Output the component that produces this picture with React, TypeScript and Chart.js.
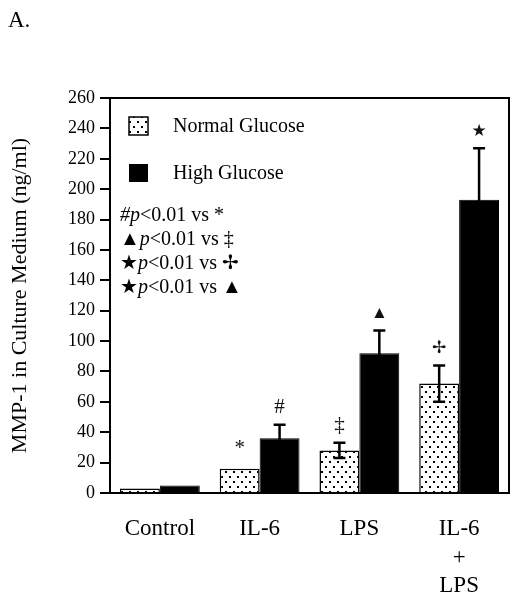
import React, { useEffect, useRef } from "react";
import { Chart, registerables } from "chart.js";
Chart.register(...registerables);

const categories: (string | string[])[] = ["Control", "IL-6", "LPS", ["IL-6", "+", "LPS"]];
const seriesNames = ["Normal Glucose", "High Glucose"];
const normalGlucose = [3, 16, 28, 72];
const highGlucose = [5, 36, 92, 193];
const normalGlucoseSE = [0, 0, 5, 12];
const highGlucoseSE = [0, 9, 15, 34];
const normalGlucoseMarks = ["", "*", "‡", "✢"];
const highGlucoseMarks = ["", "#", "▲", "★"];
const significanceNotes = [
  ["#", "<0.01 vs ", "*"],
  ["▲", "<0.01 vs ", "‡"],
  ["★", "<0.01 vs ", "✢"],
  ["★", "<0.01 vs ", "▲"],
];
const yMin = 0;
const yMax = 260;
const yStep = 20;
const panelLabel = "A.";
const yTitle = "MMP-1 in Culture Medium (ng/ml)";

const SERIF = "'Liberation Serif', 'Times New Roman', 'DejaVu Sans', serif";

function makeDotPattern(): CanvasPattern | string {
  const c = document.createElement("canvas");
  c.width = 8;
  c.height = 10;
  const g = c.getContext("2d");
  if (!g) return "#fff";
  g.fillStyle = "#fff";
  g.fillRect(0, 0, 8, 10);
  g.fillStyle = "#000";
  g.fillRect(1, 1, 2, 2);
  g.fillRect(5, 6, 2, 2);
  return g.createPattern(c, "repeat") || "#fff";
}

export default function App() {
  const ref = useRef<HTMLCanvasElement | null>(null);
  useEffect(() => {
    if (!ref.current) return;
    const dots = makeDotPattern();
    const values = [normalGlucose, highGlucose];
    const errors = [normalGlucoseSE, highGlucoseSE];
    const marks = [normalGlucoseMarks, highGlucoseMarks];

    const annotate = {
      id: "annotate",
      afterDatasetsDraw(chart: any) {
        const ctx = chart.ctx as CanvasRenderingContext2D;
        const { left, top, right, bottom } = chart.chartArea;
        const y = chart.scales.y;
        ctx.save();
        ctx.strokeStyle = "#000";
        ctx.lineWidth = 2;
        ctx.strokeRect(left, top, right - left, bottom - top);
        ctx.lineWidth = 2.5;
        for (let di = 0; di < 2; di++) {
          const meta = chart.getDatasetMeta(di);
          meta.data.forEach((bar: any, i: number) => {
            const v = values[di][i];
            const e = errors[di][i];
            const x = bar.x;
            let topY = y.getPixelForValue(v);
            if (e > 0) {
              const yt = y.getPixelForValue(v + e);
              const yb = y.getPixelForValue(v - e);
              ctx.strokeStyle = "#000";
              ctx.beginPath();
              ctx.moveTo(x, yb);
              ctx.lineTo(x, yt);
              ctx.moveTo(x - 6, yt);
              ctx.lineTo(x + 6, yt);
              ctx.moveTo(x - 6, yb);
              ctx.lineTo(x + 6, yb);
              ctx.stroke();
              topY = yt;
            }
            const m = marks[di][i];
            if (m) {
              ctx.fillStyle = "#111";
              const small = m === "▲" || m === "★" || m === "✢";
              ctx.font = `${small ? 17 : 21}px ${SERIF}`;
              ctx.textAlign = "center";
              ctx.textBaseline = "middle";
              ctx.fillText(m, x, topY - (e > 0 ? 17 : 20));
            }
          });
        }
        ctx.restore();
      },
      afterDraw(chart: any) {
        const ctx = chart.ctx as CanvasRenderingContext2D;
        ctx.save();
        ctx.fillStyle = "#000";
        ctx.textBaseline = "alphabetic";
        ctx.textAlign = "left";
        ctx.font = `23px ${SERIF}`;
        ctx.fillText(panelLabel, 8, 27);

        // legend
        ctx.fillStyle = dots as any;
        ctx.fillRect(129, 117, 19, 18);
        ctx.strokeStyle = "#000";
        ctx.lineWidth = 1.5;
        ctx.strokeRect(129, 117, 19, 18);
        ctx.fillStyle = "#000";
        ctx.fillRect(129, 164, 19, 18);
        ctx.font = `20px ${SERIF}`;
        ctx.textBaseline = "middle";
        ctx.fillText(seriesNames[0], 173, 127);
        ctx.fillText(seriesNames[1], 173, 174);

        // significance notes
        significanceNotes.forEach((note, k) => {
          const yy = 216 + k * 24;
          let xx = 120;
          const segs: [string, boolean][] = [
            [note[0], k === 0],
            ["p", true],
            [note[1], false],
            [note[2], false],
          ];
          segs.forEach(([t, it]) => {
            ctx.font = `${it ? "italic " : ""}20px ${SERIF}`;
            ctx.fillText(t, xx, yy);
            xx += ctx.measureText(t).width;
          });
        });
        ctx.restore();
      },
    };

    const chart = new Chart(ref.current, {
      type: "bar",
      data: {
        labels: categories as any,
        datasets: [
          {
            label: seriesNames[0],
            data: normalGlucose,
            backgroundColor: dots as any,
            borderColor: "#000",
            borderWidth: 1.5,
            categoryPercentage: 0.8,
            barPercentage: 1.0,
          },
          {
            label: seriesNames[1],
            data: highGlucose,
            backgroundColor: "#000",
            borderColor: "#000",
            borderWidth: 1,
            categoryPercentage: 0.8,
            barPercentage: 1.0,
          },
        ],
      },
      options: {
        animation: false,
        responsive: false,
        devicePixelRatio: 1,
        layout: { padding: { top: 98, right: 11, left: 0, bottom: 0 } },
        plugins: {
          legend: { display: false },
          tooltip: { enabled: false },
        },
        scales: {
          x: {
            offset: true,
            grid: { display: false },
            border: { display: true, color: "#000", width: 2 },
            ticks: {
              color: "#000",
              padding: 14,
              maxRotation: 0,
              autoSkip: false,
              font: { family: SERIF, size: 23, lineHeight: 1.24 },
            },
            afterFit: (s: any) => {
              s.height = 108;
            },
          },
          y: {
            min: yMin,
            max: yMax,
            grid: {
              display: true,
              drawOnChartArea: false,
              drawTicks: true,
              tickLength: 10,
              color: "#000",
              lineWidth: 2,
            },
            border: { display: true, color: "#000", width: 2 },
            ticks: {
              stepSize: yStep,
              color: "#000",
              padding: 5,
              font: { family: SERIF, size: 18 },
            },
            title: {
              display: true,
              text: yTitle,
              color: "#000",
              font: { family: SERIF, size: 22 },
              padding: { top: 7, bottom: 0 },
            },
            afterFit: (s: any) => {
              s.width = 110;
            },
          },
        },
      },
      plugins: [annotate],
    });
    return () => chart.destroy();
  }, []);

  return (
    <div style={{ position: "fixed", left: 0, top: 0, width: 520, height: 601, background: "#fff" }}>
      <canvas ref={ref} width={520} height={601} style={{ display: "block" }} />
    </div>
  );
}
